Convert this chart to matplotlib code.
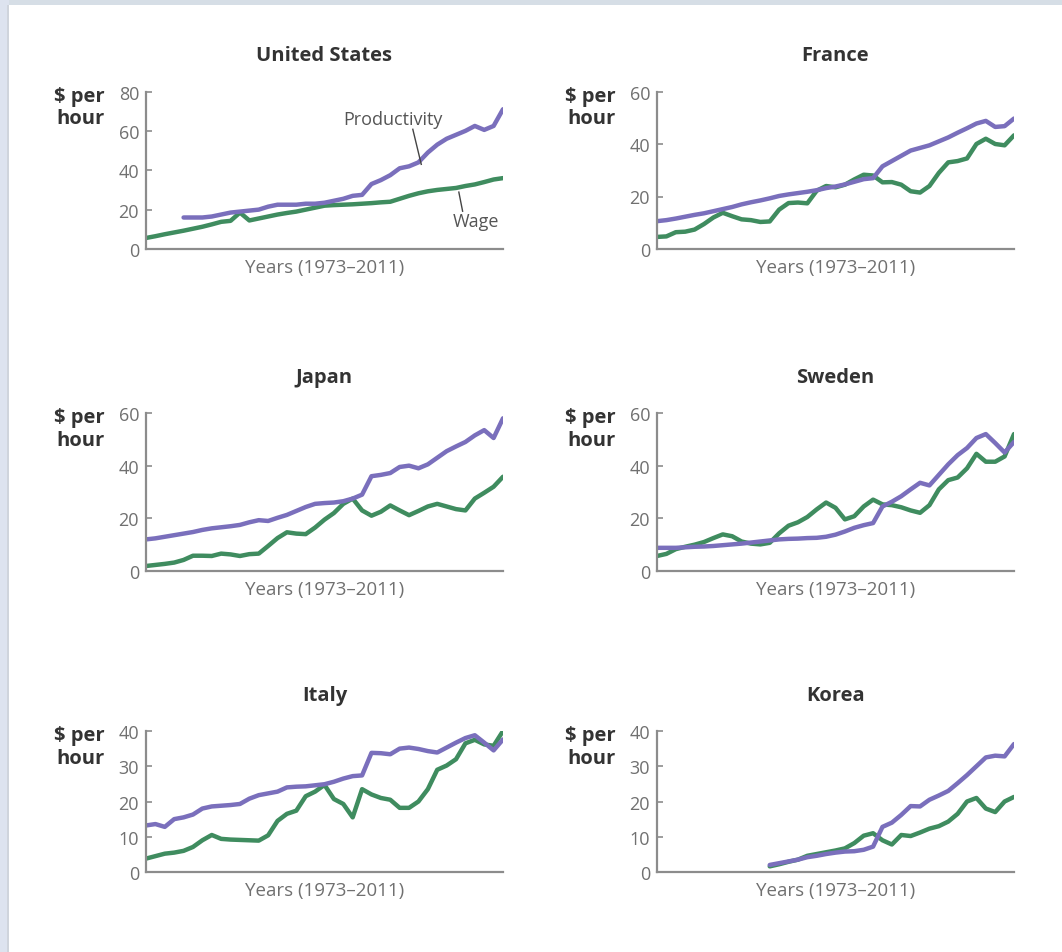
import matplotlib
matplotlib.use("Agg")
import matplotlib.pyplot as plt
from matplotlib.patches import Rectangle

plt.rcParams['font.family'] = ['Open Sans', 'DejaVu Sans']

# ---------------- data ----------------
years_full = list(range(1973, 2012))

us_years_prod = list(range(1977, 2012))
us_prod = [16, 16, 16, 16.5, 17.5, 18.5, 19, 19.5, 20, 21.5, 22.5, 22.5, 22.5, 23, 23,
           23.5, 24.5, 25.5, 27, 27.5, 33, 35, 37.5, 41, 42, 44, 49, 53, 56, 58, 60,
           62.5, 60.5, 62.5, 71]
us_wage = [5.6, 6.5, 7.5, 8.4, 9.3, 10.3, 11.3, 12.5, 13.8, 14.3, 18.5, 14.5, 15.5, 16.5,
           17.5, 18.3, 19, 20, 21, 22, 22.3, 22.5, 22.7, 23, 23.3, 23.7, 24, 25.5, 27,
           28.3, 29.3, 30, 30.5, 31, 32, 32.8, 34, 35.3, 36]

fr_prod = [10.6, 11, 11.6, 12.3, 13, 13.6, 14.4, 15.2, 16, 17, 17.8, 18.5, 19.3, 20.2,
           20.8, 21.3, 21.8, 22.4, 23.2, 23.8, 24.6, 25.6, 26.6, 27, 31.5, 33.5, 35.5,
           37.5, 38.5, 39.5, 41, 42.5, 44.3, 46, 47.8, 48.8, 46.5, 46.8, 49.7]
fr_wage = [4.6, 4.8, 6.4, 6.6, 7.4, 9.5, 12, 13.8, 12.5, 11.3, 11, 10.3, 10.5, 15, 17.5,
           17.7, 17.4, 22.2, 24, 23.5, 24.5, 26.5, 28.3, 28, 25.4, 25.5, 24.5, 22, 21.5,
           24, 29, 33, 33.5, 34.5, 40, 42, 40, 39.5, 43.3]

jp_prod = [12, 12.4, 13, 13.6, 14.2, 14.8, 15.6, 16.2, 16.6, 17, 17.5, 18.5, 19.3, 19,
           20.2, 21.3, 22.8, 24.3, 25.5, 25.8, 26, 26.5, 27.5, 29, 36, 36.5, 37.2, 39.5,
           40, 39, 40.5, 43, 45.5, 47.3, 49, 51.5, 53.5, 50.5, 58]
jp_wage = [1.9, 2.3, 2.7, 3.2, 4.2, 5.8, 5.8, 5.7, 6.6, 6.3, 5.7, 6.4, 6.6, 9.5, 12.5,
           14.7, 14.2, 14, 16.5, 19.5, 22, 25.5, 27.5, 23, 21, 22.5, 24.9, 23, 21.2, 22.8,
           24.5, 25.5, 24.5, 23.5, 23, 27.5, 29.7, 32, 35.8]

se_prod = [8.8, 8.8, 8.8, 9, 9.2, 9.3, 9.5, 9.8, 10.1, 10.4, 10.8, 11.2, 11.6, 12, 12.2,
           12.3, 12.5, 12.6, 13, 13.8, 15, 16.4, 17.4, 18.2, 24.5, 26.3, 28.4, 31, 33.5,
           32.5, 36.5, 40.5, 44, 46.7, 50.5, 52, 48.6, 45, 49]
se_wage = [5.7, 6.5, 8.3, 9.2, 10, 11, 12.5, 13.9, 13.2, 11.2, 10.4, 10.1, 10.7, 14.3,
           17.2, 18.5, 20.5, 23.4, 26, 24, 19.6, 20.8, 24.5, 27.1, 25.3, 25, 24.2, 23,
           22.1, 25, 31, 34.5, 35.5, 39, 44.5, 41.5, 41.5, 43.5, 52]

it_prod = [13.2, 13.6, 12.8, 15, 15.5, 16.3, 18, 18.6, 18.8, 19, 19.3, 20.8, 21.8, 22.3,
           22.8, 24, 24.2, 24.3, 24.6, 24.9, 25.6, 26.5, 27.2, 27.4, 33.8, 33.7, 33.4,
           35, 35.3, 34.9, 34.3, 33.9, 35.3, 36.7, 38, 38.8, 36.7, 34.5, 37.6]
it_wage = [3.8, 4.5, 5.2, 5.5, 6, 7.1, 9, 10.5, 9.4, 9.2, 9.1, 9, 8.9, 10.4, 14.5, 16.5,
           17.4, 21.5, 22.8, 24.7, 20.7, 19.3, 15.5, 23.5, 22, 21, 20.5, 18.2, 18.2, 20,
           23.5, 29, 30.2, 32, 36.5, 37.5, 36.2, 35.8, 40]

kr_years = list(range(1985, 2012))
kr_prod = [2, 2.5, 3, 3.5, 4.2, 4.6, 5.1, 5.5, 5.8, 5.9, 6.3, 7.2, 12.8, 14, 16.2, 18.7,
           18.6, 20.5, 21.7, 23, 25.2, 27.5, 30, 32.5, 33, 32.8, 36.3]
kr_wage = [1.6, 2.2, 2.9, 3.5, 4.6, 5.1, 5.6, 6.1, 6.7, 8.2, 10.3, 11, 9, 7.8, 10.5, 10.2,
           11.2, 12.3, 13, 14.3, 16.5, 20, 21, 18, 17, 20, 21.3]

countries = ["United States", "France", "Japan", "Sweden", "Italy", "Korea"]
y_max = [80, 60, 60, 60, 40, 40]
y_ticks = [[0, 20, 40, 60, 80], [0, 20, 40, 60], [0, 20, 40, 60], [0, 20, 40, 60],
           [0, 10, 20, 30, 40], [0, 10, 20, 30, 40]]
prod_series = [(us_years_prod, us_prod), (years_full, fr_prod), (years_full, jp_prod),
               (years_full, se_prod), (years_full, it_prod), (kr_years, kr_prod)]
wage_series = [(years_full, us_wage), (years_full, fr_wage), (years_full, jp_wage),
               (years_full, se_wage), (years_full, it_wage), (kr_years, kr_wage)]
x_label = "Years (1973\u20132011)"

# ---------------- styling ----------------
W, H = 1062, 953
fig = plt.figure(figsize=(W / 100, H / 100), dpi=100)
fig.patch.set_facecolor("white")

# frame bands
fig.patches.append(Rectangle((0, 1 - 6 / H), 1, 6 / H, transform=fig.transFigure,
                             facecolor="#d6dee6", edgecolor="none", zorder=0))
fig.patches.append(Rectangle((0, 0), 9 / W, 1, transform=fig.transFigure,
                             facecolor="#dde3ef", edgecolor="none", zorder=0))
fig.patches.append(Rectangle((7 / W, 0), 2 / W, 1 - 6 / H, transform=fig.transFigure,
                             facecolor="#cfd4dc", edgecolor="none", zorder=0))

PURPLE = "#7a6fbc"
GREEN = "#3f8c5f"
AXC = "#8c8c8c"
TXT = "#333333"
TICKC = "#707070"

cols = [(146, 503), (657, 1014)]
rows = [(92.5, 250), (414, 572), (732, 873)]

axes = []
for i, name in enumerate(countries):
    r, c = divmod(i, 2)
    x0, x1 = cols[c]
    t, b = rows[r]
    ax = fig.add_axes([x0 / W, 1 - b / H, (x1 - x0) / W, (b - t) / H])
    axes.append(ax)
    px, py = prod_series[i]
    wx, wy = wage_series[i]
    ax.plot(wx, wy, color=GREEN, lw=3.2, solid_joinstyle="round", solid_capstyle="round")
    ax.plot(px, py, color=PURPLE, lw=3.2, solid_joinstyle="round", solid_capstyle="round")
    ax.set_xlim(1973, 2011)
    ax.set_ylim(0, y_max[i])
    ax.set_yticks(y_ticks[i])
    ax.set_xticks([])
    for s in ["top", "right"]:
        ax.spines[s].set_visible(False)
    for s in ["left", "bottom"]:
        ax.spines[s].set_color(AXC)
        ax.spines[s].set_linewidth(1.6)
    ax.tick_params(axis="y", direction="in", length=4, width=1.2, color=AXC,
                   labelcolor=TICKC, labelsize=13, pad=5)
    ax.patch.set_alpha(0)
    ax.annotate(name, xy=(0.5, 1), xycoords="axes fraction", xytext=(0, 26),
                textcoords="offset points", ha="center", va="center",
                fontsize=14.5, fontweight="bold", color=TXT)
    ax.annotate("\\$ per\nhour", xy=(0, 1), xycoords="axes fraction", xytext=(-30, 4),
                textcoords="offset points", ha="right", va="top",
                fontsize=14.5, fontweight="bold", color=TXT, linespacing=1.15)
    ax.annotate(x_label, xy=(0.5, 0), xycoords="axes fraction", xytext=(0, -13),
                textcoords="offset points", ha="center", va="center",
                fontsize=13.5, color=TICKC)

# US callouts
us = axes[0]
us.plot([2001.4, 2002.3], [60.8, 43], color="#444444", lw=1)
us.text(1999.3, 65.8, "Productivity", ha="center", va="center", fontsize=13, color="#555555")
us.plot([2006.3, 2006.7], [28.9, 19.2], color="#444444", lw=1)
us.text(2008.1, 14.2, "Wage", ha="center", va="center", fontsize=13, color="#555555")

fig.savefig("out.png", dpi=100)
